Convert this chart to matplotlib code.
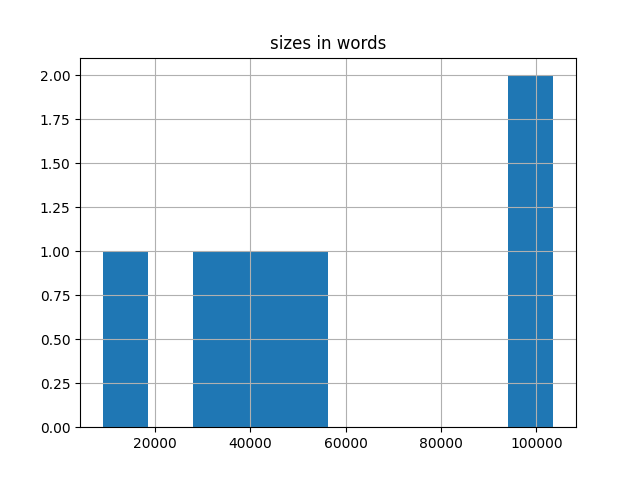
import matplotlib
matplotlib.use("Agg")
import matplotlib.pyplot as plt

# word counts per document
sizes = [9050, 33000, 42000, 51500, 97500, 103600]
n_bins = 10

fig, ax = plt.subplots(figsize=(6.4, 4.8), dpi=100)
ax.hist(sizes, bins=n_bins, color="#1f77b4")
ax.grid(True)
ax.set_title("sizes in words")
fig.savefig("out.png")
